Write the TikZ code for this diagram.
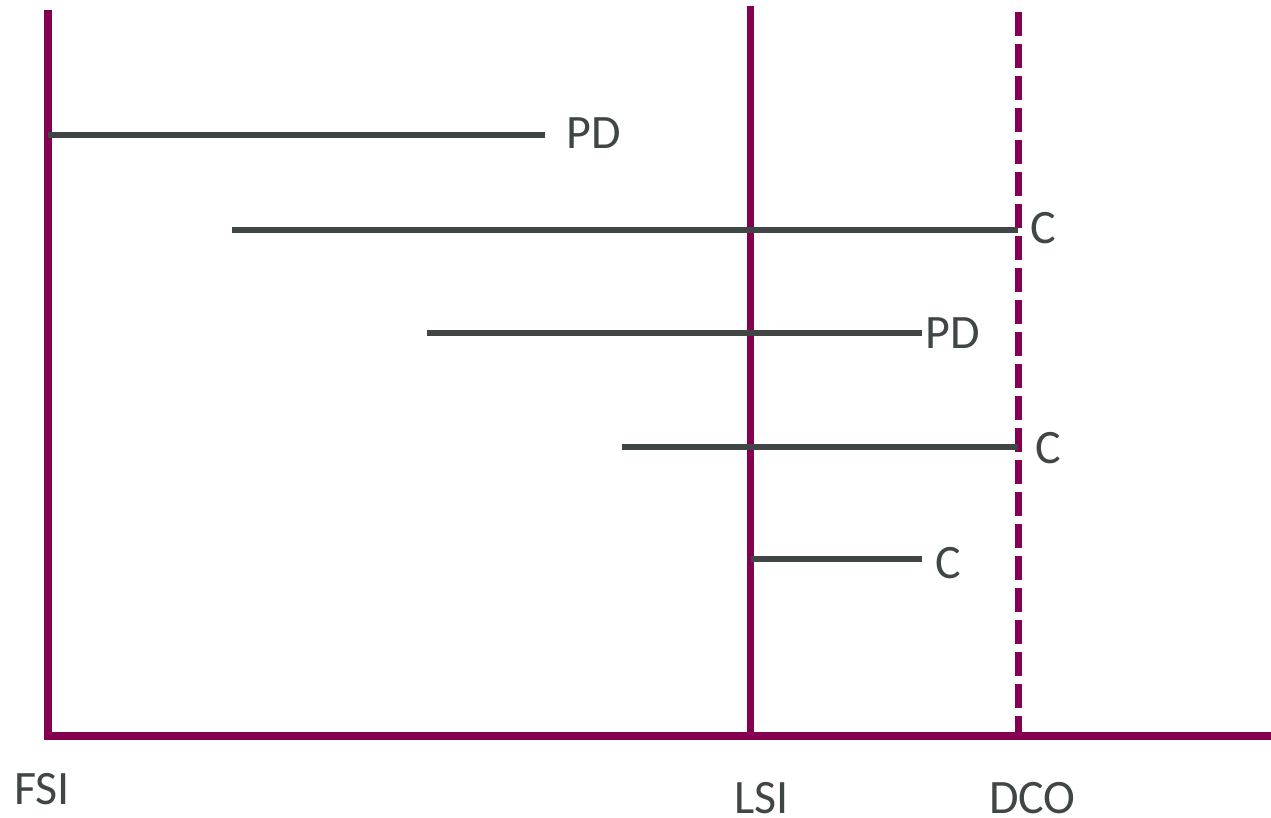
\documentclass[tikz,border=0pt]{standalone}
\usepackage{fontspec}
\setmainfont{Carlito}
\definecolor{axiscol}{RGB}{133,0,80}
\definecolor{barcol}{RGB}{64,69,69}
\begin{document}
\begin{tikzpicture}[x=1pt,y=-1pt,
  axisline/.style={draw=axiscol,line width=8pt,line join=miter},
  refline/.style={draw=axiscol,line width=7pt},
  dashline/.style={draw=axiscol,line width=7pt,dash pattern=on 24pt off 8pt},
  bar/.style={draw=barcol,line width=6pt},
  lbl/.style={anchor=base west,inner sep=0pt,text depth=0pt,text=barcol,font=\fontsize{48}{52}\selectfont}]
\useasboundingbox (0,0) rectangle (1271,818);
% axes
\coordinate (axtop) at (48,10);
\coordinate (axorigin) at (48,736);
\coordinate (axright) at (1271,736);
\draw[axisline] (axtop) -- (axorigin) -- (axright);
\coordinate (lsitop) at (750.5,6);
\coordinate (lsibot) at (750.5,736);
\draw[refline] (lsitop) -- (lsibot);
\coordinate (dcotop) at (1018.5,12);
\coordinate (dcobot) at (1018.5,740);
\draw[dashline] (dcotop) -- (dcobot);
% bars
\coordinate (b1s) at (48,135);  \coordinate (b1e) at (545,135);
\coordinate (b2s) at (232,230); \coordinate (b2e) at (1018,230);
\coordinate (b3s) at (427,333); \coordinate (b3e) at (922,333);
\coordinate (b4s) at (622,447); \coordinate (b4e) at (1018,447);
\coordinate (b5s) at (751,559); \coordinate (b5e) at (922,559);
\draw[bar] (b1s) -- (b1e);
\draw[bar] (b2s) -- (b2e);
\draw[bar] (b3s) -- (b3e);
\draw[bar] (b4s) -- (b4e);
\draw[bar] (b5s) -- (b5e);
% labels
\node[lbl] (l1) at (566,149) {PD};
\node[lbl] (l2) at (1030,244) {C};
\node[lbl] (l3) at (925,348) {PD};
\node[lbl] (l4) at (1035,463) {C};
\node[lbl] (l5) at (935,578) {C};
\node[lbl] (fsi) at (14,804) {FSI};
\node[lbl] (lsi) at (734,813) {LSI};
\node[lbl] (dco) at (989,813) {DCO};
\end{tikzpicture}
\end{document}
